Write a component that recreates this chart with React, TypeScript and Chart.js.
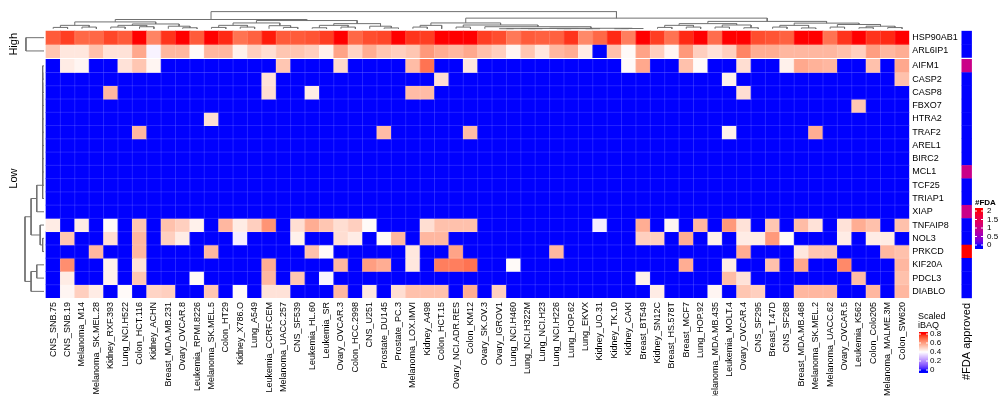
import { useEffect, useRef } from 'react';
import { Chart, registerables } from 'chart.js';
Chart.register(...registerables);

// ---------------- data ----------------
const cellLines = [
  'CNS_SNB.75', 'CNS_SNB.19', 'Melanoma_M14', 'Melanoma_SK.MEL.28', 'Kidney_RXF.393', 'Lung_NCI.H522',
  'Colon_HCT.116', 'Kidney_ACHN', 'Breast_MDA.MB.231', 'Ovary_OVCAR.8', 'Leukemia_RPMI.8226',
  'Melanoma_SK.MEL.5', 'Colon_HT29', 'Kidney_X786.O', 'Lung_A549', 'Leukemia_CCRF.CEM',
  'Melanoma_UACC.257', 'CNS_SF539', 'Leukemia_HL.60', 'Leukemia_SR', 'Ovary_OVCAR.3',
  'Colon_HCC.2998', 'CNS_U251', 'Prostate_DU145', 'Prostate_PC.3', 'Melanoma_LOX.IMVI',
  'Kidney_A498', 'Colon_HCT.15', 'Ovary_NCI.ADR.RES', 'Colon_KM12', 'Ovary_SK.OV.3',
  'Ovary_IGROV1', 'Lung_NCI.H460', 'Lung_NCI.H322M', 'Lung_NCI.H23', 'Lung_NCI.H226',
  'Lung_HOP.62', 'Lung_EKVX', 'Kidney_UO.31', 'Kidney_TK.10', 'Kidney_CAKI', 'Breast_BT549',
  'Kidney_SN12C', 'Breast_HS.578T', 'Breast_MCF7', 'Lung_HOP.92', 'Melanoma_MDA.MB.435',
  'Leukemia_MOLT.4', 'Ovary_OVCAR.4', 'CNS_SF295', 'Breast_T.47D', 'CNS_SF268',
  'Breast_MDA.MB.468', 'Melanoma_SK.MEL.2', 'Melanoma_UACC.62', 'Ovary_OVCAR.5',
  'Leukemia_K562', 'Colon_Colo205', 'Melanoma_MALME.3M', 'Colon_SW620',
];

const genes = [
  'HSP90AB1', 'ARL6IP1', 'AIFM1', 'CASP2', 'CASP8', 'FBXO7', 'HTRA2', 'TRAF2', 'AREL1', 'BIRC2',
  'MCL1', 'TCF25', 'TRIAP1', 'XIAP', 'TNFAIP8', 'NOL3', 'PRKCD', 'KIF20A', 'PDCL3', 'DIABLO',
];
const rowGroups = ['High', 'High', 'Low', 'Low', 'Low', 'Low', 'Low', 'Low', 'Low', 'Low',
  'Low', 'Low', 'Low', 'Low', 'Low', 'Low', 'Low', 'Low', 'Low', 'Low'];

const HSP90AB1 = [0.72, 0.76, 0.70, 0.70, 0.75, 0.72, 0.80, 0.65, 0.77, 0.80, 0.72, 0.80, 0.78, 0.68, 0.71, 0.79, 0.72, 0.72, 0.73, 0.76,
  0.80, 0.70, 0.74, 0.75, 0.80, 0.77, 0.76, 0.80, 0.80, 0.80, 0.76, 0.74, 0.67, 0.72, 0.71, 0.71, 0.77, 0.64, 0.70, 0.78,
  0.66, 0.80, 0.76, 0.68, 0.78, 0.80, 0.69, 0.80, 0.80, 0.74, 0.73, 0.71, 0.80, 0.80, 0.68, 0.77, 0.80, 0.77, 0.78, 0.80];
const ARL6IP1 = [0.52, 0.45, 0.45, 0.53, 0.46, 0.46, 0.58, 0.38, 0.55, 0.55, 0.41, 0.55, 0.55, 0.43, 0.50, 0.47, 0.52, 0.52, 0.50, 0.43,
  0.59, 0.49, 0.57, 0.52, 0.50, 0.52, 0.61, 0.57, 0.55, 0.58, 0.53, 0.50, 0.42, 0.52, 0.45, 0.55, 0.57, 0.44, 0.00, 0.53,
  0.41, 0.59, 0.50, 0.42, 0.61, 0.50, 0.46, 0.50, 0.65, 0.57, 0.57, 0.55, 0.55, 0.55, 0.55, 0.53, 0.50, 0.60, 0.55, 0.57];
const AIFM1 = [0, 0.44, 0.42, 0, 0, 0.46, 0.52, 0.42, 0, 0, 0, 0, 0, 0, 0, 0, 0.52, 0, 0, 0,
  0.48, 0, 0, 0, 0, 0.54, 0.68, 0, 0, 0.45, 0, 0, 0, 0, 0, 0, 0, 0, 0, 0,
  0.41, 0.58, 0, 0, 0.53, 0.41, 0, 0, 0.47, 0, 0, 0.43, 0.58, 0.56, 0.55, 0, 0, 0.53, 0, 0.58];
const CASP2 = [0, 0, 0, 0, 0, 0, 0, 0, 0, 0, 0, 0, 0, 0, 0, 0.46, 0, 0, 0, 0,
  0, 0, 0, 0, 0, 0, 0, 0.47, 0, 0, 0, 0, 0, 0, 0, 0, 0, 0, 0, 0,
  0, 0, 0, 0, 0, 0, 0, 0.43, 0, 0, 0, 0, 0, 0, 0, 0, 0, 0, 0, 0.53];
const CASP8 = [0, 0, 0, 0, 0.55, 0, 0, 0, 0, 0, 0, 0, 0, 0, 0, 0.47, 0, 0, 0.44, 0,
  0, 0, 0, 0, 0, 0.54, 0.54, 0, 0, 0, 0, 0, 0, 0, 0, 0, 0, 0, 0, 0,
  0, 0, 0, 0, 0, 0, 0, 0, 0.47, 0, 0, 0, 0, 0, 0, 0, 0, 0, 0, 0];
const FBXO7 = [0, 0, 0, 0, 0, 0, 0, 0, 0, 0, 0, 0, 0, 0, 0, 0, 0, 0, 0, 0,
  0, 0, 0, 0, 0, 0, 0, 0, 0, 0, 0, 0, 0, 0, 0, 0, 0, 0, 0, 0,
  0, 0, 0, 0, 0, 0, 0, 0, 0, 0, 0, 0, 0, 0, 0, 0, 0.52, 0, 0, 0];
const HTRA2 = [0, 0, 0, 0, 0, 0, 0, 0, 0, 0, 0, 0.47, 0, 0, 0, 0, 0, 0, 0, 0,
  0, 0, 0, 0, 0, 0, 0, 0, 0, 0, 0, 0, 0, 0, 0, 0, 0, 0, 0, 0,
  0, 0, 0, 0, 0, 0, 0, 0, 0, 0, 0, 0, 0, 0, 0, 0, 0, 0, 0, 0];
const TRAF2 = [0, 0, 0, 0, 0, 0, 0.55, 0, 0, 0, 0, 0, 0, 0, 0, 0, 0, 0, 0, 0,
  0, 0, 0, 0.54, 0, 0, 0, 0, 0, 0.54, 0, 0, 0, 0, 0, 0, 0, 0, 0, 0,
  0, 0, 0, 0, 0, 0, 0, 0.43, 0, 0, 0, 0, 0, 0.57, 0, 0, 0, 0, 0, 0];
const AREL1 = [0, 0, 0, 0, 0, 0, 0, 0, 0, 0, 0, 0, 0, 0, 0, 0, 0, 0, 0, 0,
  0, 0, 0, 0, 0, 0, 0, 0, 0, 0, 0, 0, 0, 0, 0, 0, 0, 0, 0, 0,
  0, 0, 0, 0, 0, 0, 0, 0, 0, 0, 0, 0, 0, 0, 0, 0, 0, 0, 0, 0];
const BIRC2 = [...AREL1];
const MCL1 = [...AREL1];
const TCF25 = [...AREL1];
const TRIAP1 = [...AREL1];
const XIAP = [...AREL1];
const TNFAIP8 = [0.44, 0, 0.44, 0, 0.41, 0, 0.52, 0, 0.53, 0.50, 0.43, 0, 0.55, 0.44, 0.50, 0.62, 0, 0.47, 0.57, 0.52,
  0.47, 0.50, 0.41, 0, 0, 0, 0.47, 0.53, 0.53, 0.53, 0, 0, 0, 0, 0, 0, 0, 0, 0.37, 0,
  0, 0.57, 0, 0.42, 0, 0.55, 0, 0.61, 0.46, 0, 0.52, 0, 0.54, 0.46, 0, 0.46, 0.57, 0.53, 0, 0.53];
const NOL3 = [0, 0.52, 0, 0, 0.47, 0, 0.55, 0, 0.50, 0.44, 0, 0, 0, 0.37, 0, 0, 0, 0.43, 0, 0,
  0.47, 0.44, 0, 0.41, 0.55, 0, 0.55, 0.55, 0, 0, 0, 0, 0, 0, 0, 0, 0, 0, 0, 0,
  0, 0.50, 0.50, 0, 0.57, 0, 0.43, 0, 0.44, 0.44, 0.61, 0.41, 0, 0, 0, 0.44, 0, 0.44, 0.44, 0];
const PRKCD = [0, 0, 0, 0.55, 0, 0, 0.55, 0, 0, 0, 0, 0.55, 0, 0, 0, 0, 0, 0, 0.53, 0.41,
  0, 0, 0, 0, 0, 0.45, 0, 0, 0.59, 0, 0, 0, 0, 0, 0, 0.55, 0, 0, 0, 0,
  0, 0, 0, 0, 0, 0, 0, 0, 0.57, 0, 0, 0, 0.45, 0.52, 0.52, 0, 0, 0, 0.55, 0.53];
const KIF20A = [0, 0.63, 0, 0, 0.43, 0, 0.46, 0, 0, 0, 0, 0, 0, 0, 0, 0.57, 0, 0, 0, 0,
  0.55, 0, 0.60, 0.57, 0, 0.45, 0, 0.66, 0.66, 0.68, 0, 0, 0.41, 0, 0, 0, 0, 0, 0, 0,
  0, 0, 0, 0, 0.57, 0, 0, 0.44, 0, 0, 0.53, 0, 0.58, 0, 0, 0.64, 0, 0, 0, 0.55];
const PDCL3 = [0, 0.44, 0, 0, 0.43, 0, 0.52, 0, 0, 0, 0.41, 0, 0, 0, 0, 0.55, 0, 0.52, 0, 0.38,
  0, 0, 0, 0, 0, 0, 0, 0, 0, 0, 0, 0, 0, 0, 0, 0, 0, 0, 0, 0,
  0, 0.43, 0, 0, 0, 0, 0, 0.54, 0.46, 0, 0, 0, 0, 0, 0, 0, 0.54, 0, 0, 0.53];
const DIABLO = [0, 0.42, 0.50, 0.44, 0, 0.41, 0, 0.49, 0.50, 0, 0, 0.52, 0, 0.41, 0, 0.46, 0.46, 0, 0, 0,
  0.55, 0, 0.45, 0, 0.47, 0.53, 0.53, 0.53, 0, 0.57, 0, 0.50, 0, 0, 0, 0, 0, 0, 0, 0,
  0, 0, 0.44, 0, 0, 0, 0.42, 0, 0.52, 0.50, 0, 0, 0.55, 0.55, 0.55, 0, 0, 0.55, 0, 0.55];

const geneValues = [HSP90AB1, ARL6IP1, AIFM1, CASP2, CASP8, FBXO7, HTRA2, TRAF2, AREL1, BIRC2,
  MCL1, TCF25, TRIAP1, XIAP, TNFAIP8, NOL3, PRKCD, KIF20A, PDCL3, DIABLO];

const fdaApproved = [0, 0, 1, 0, 0, 0, 0, 0, 0, 0, 1, 0, 0, 1, 0, 0, 2, 0, 0, 0];

const iBAQTicks = [0, 0.2, 0.4, 0.6, 0.8];
const fdaTicks = [0, 0.5, 1, 1.5, 2];

// dendrograms: [height, left, right]; leaves are column / row indices
type Node = number | [number, Node, Node];
const colTree: Node = [1.0,
  [0.54,
    [0.40,
      [0.2, [0.08, 0, 1], [0.1, 2, 3]],
      [0.28, [0.2, [0.1, 4, 5], [0.12, 6, 7]], [0.15, 8, [0.06, 9, 10]]]],
    [0.48,
      [0.34, [0.2, [0.08, 11, 12], [0.1, 13, 14]], [0.18, 15, [0.08, 16, 17]]],
      [0.3, [0.2, [0.06, 18, 19], [0.1, 20, 21]], [0.15, 22, [0.05, 23, 24]]]]],
  [0.62,
    [0.34,
      [0.2, [0.1, 25, 26], 27],
      [0.22, [0.1, 28, 29], [0.12, 30,
        [0.03, [0.02, [0.01, [0.005, 31, 32], [0.005, 33, 34]], [0.01, [0.005, 35, 36], [0.005, 37, 38]]],
          [0.015, [0.005, 39, 40], 41]]]]],
    [0.43,
      [0.3, [0.2, [0.08, 42, 43], [0.1, 44, 45]], [0.22, [0.1, 46, 47], [0.06, 48, 49]]],
      [0.33, [0.2, [0.1, 50, 51], [0.05, 52, 53]], [0.25, [0.1, 54, 55], [0.15, [0.06, 56, 57], [0.07, 58, 59]]]]]]];
const rowTreeHigh: Node = [0.95, 0, 1];
const rowTreeLow: Node = [1.0,
  [0.68,
    [0.38, [0.07, [0.07, [0.07, [0.07, [0.07, [0.07, [0.07, [0.07, [0.07, [0.07, 2, 3], 4], 5], 6], 7], 8], 9], 10], 11], 12], 13],
    [0.2, 14, [0.07, 15, 16]]],
  [0.68, [0.38, 17, 18], 19]];

// ---------------- geometry & colours ----------------
const W = 1000, H = 396;
const HEAT_L = 46, HEAT_R = 909.3, HEAT_T = 23.3, HEAT_B = 298;
const GAP = 0.125;
const UNIT_X = (HEAT_R - HEAT_L) / cellLines.length;
const X_MIN = -0.5 - HEAT_L / UNIT_X;
const X_MAX = cellLines.length - 0.5;
const Y_MAX = genes.length + GAP;
const UNIT_Y = (HEAT_B - HEAT_T) / Y_MAX;
const Y_MIN = -HEAT_T / UNIT_Y;
const FDA_X = -0.5 + (966.7 - HEAT_L) / UNIT_X;
const rowTop = (r: number) => r + (rowGroups[r] === 'Low' ? GAP : 0);
const colDendY = (h: number) => -0.17 - h * 1.295;
const rowDendX = (h: number) => -0.64 - h * 1.32;

const toLin = (c: number) => { c /= 255; return c <= 0.04045 ? c / 12.92 : Math.pow((c + 0.055) / 1.055, 2.4); };
const fromLin = (c: number) => { const v = c <= 0.0031308 ? 12.92 * c : 1.055 * Math.pow(c, 1 / 2.4) - 0.055; return Math.round(Math.min(1, Math.max(0, v)) * 255); };
function rgb2lab(rgb: number[]) {
  const [R, G, B] = rgb.map(toLin);
  const X = (0.4124 * R + 0.3576 * G + 0.1805 * B) / 0.95047;
  const Y = 0.2126 * R + 0.7152 * G + 0.0722 * B;
  const Z = (0.0193 * R + 0.1192 * G + 0.9505 * B) / 1.08883;
  const f = (t: number) => (t > 0.008856 ? Math.cbrt(t) : 7.787 * t + 16 / 116);
  return [116 * f(Y) - 16, 500 * (f(X) - f(Y)), 200 * (f(Y) - f(Z))];
}
function lab2rgbArr(L: number, a: number, b: number) {
  const fy = (L + 16) / 116, fx = fy + a / 500, fz = fy - b / 200;
  const fi = (t: number) => (t > 0.206893 ? t * t * t : (t - 16 / 116) / 7.787);
  const X = fi(fx) * 0.95047, Y = fi(fy), Z = fi(fz) * 1.08883;
  const R = 3.2406 * X - 1.5372 * Y - 0.4986 * Z;
  const G = -0.9689 * X + 1.8758 * Y + 0.0415 * Z;
  const B = 0.0557 * X - 0.204 * Y + 1.057 * Z;
  return [fromLin(R), fromLin(G), fromLin(B)];
}
function colorRampArr(breaks: number[], colors: number[][]) {
  const labs = colors.map(rgb2lab);
  return (v: number) => {
    const x = Math.min(breaks[breaks.length - 1], Math.max(breaks[0], v));
    let k = 0;
    while (k < breaks.length - 2 && x > breaks[k + 1]) k++;
    const t = (x - breaks[k]) / (breaks[k + 1] - breaks[k]);
    const a = labs[k], b = labs[k + 1];
    return lab2rgbArr(a[0] + (b[0] - a[0]) * t, a[1] + (b[1] - a[1]) * t, a[2] + (b[2] - a[2]) * t);
  };
}
const heatRgb = colorRampArr([0, 0.4, 0.8], [[0, 0, 255], [255, 255, 255], [255, 0, 0]]);
const fdaRgb = colorRampArr([0, 2], [[0, 0, 255], [255, 0, 0]]);
const css = (c: number[]) => `rgb(${c[0]},${c[1]},${c[2]})`;
const heatColor = (v: number) => css(heatRgb(v));
const fdaColor = (v: number) => css(fdaRgb(v));

function dendroPoints(tree: Node, leafPos: (i: number) => number, pt: (pos: number, h: number) => any) {
  const pts: any[] = [];
  const walk = (n: Node): [number, number] => {
    if (typeof n === 'number') return [leafPos(n), 0];
    const [h, a, b] = n;
    const [pa, ha] = walk(a);
    const [pb, hb] = walk(b);
    pts.push(pt(pa, ha), pt(pa, h), pt(pb, h), pt(pb, hb), { x: 0, y: null });
    return [(pa + pb) / 2, h];
  };
  walk(tree);
  return pts;
}

const FONT = '"Liberation Sans", Arial, sans-serif';

// faint cell separators over the heatmap body
const cellGrid = {
  id: 'cellGrid',
  afterDatasetsDraw(chart: any) {
    const ctx = chart.ctx as CanvasRenderingContext2D;
    const xs = chart.scales.x, ys = chart.scales.y;
    const groups = Array.from(new Set(rowGroups));
    ctx.save();
    ctx.strokeStyle = 'rgba(255,255,255,0.2)';
    ctx.lineWidth = 0.7;
    const left = xs.getPixelForValue(-0.5), right = xs.getPixelForValue(cellLines.length - 0.5);
    groups.forEach((g) => {
      const rows = rowGroups.map((v, i) => (v === g ? i : -1)).filter((i) => i >= 0);
      const top = ys.getPixelForValue(rowTop(rows[0]));
      const bot = ys.getPixelForValue(rowTop(rows[rows.length - 1]) + 1);
      ctx.beginPath();
      for (let i = 0; i < cellLines.length - 1; i++) {
        const px = xs.getPixelForValue(i + 0.5);
        ctx.moveTo(px, top); ctx.lineTo(px, bot);
      }
      for (let k = 0; k < rows.length - 1; k++) {
        const py = ys.getPixelForValue(rowTop(rows[k]) + 1);
        ctx.moveTo(left, py); ctx.lineTo(right, py);
      }
      ctx.stroke();
    });
    ctx.restore();
  },
};

const decorations = {
  id: 'decorations',
  afterDraw(chart: any) {
    const ctx = chart.ctx as CanvasRenderingContext2D;
    const ys = chart.scales.y;
    ctx.save();
    ctx.fillStyle = '#000';
    const vtext = (txt: string, x: number, y: number, font: string, align: CanvasTextAlign) => {
      ctx.save();
      ctx.translate(x, y);
      ctx.rotate(-Math.PI / 2);
      ctx.font = font;
      ctx.textAlign = align;
      ctx.textBaseline = 'middle';
      ctx.fillText(txt, 0, 0);
      ctx.restore();
    };
    const groups = Array.from(new Set(rowGroups));
    groups.forEach((g) => {
      const rows = rowGroups.map((v, i) => (v === g ? i : -1)).filter((i) => i >= 0);
      const top = ys.getPixelForValue(rowTop(rows[0]));
      const bot = ys.getPixelForValue(rowTop(rows[rows.length - 1]) + 1);
      vtext(g, 14, (top + bot) / 2, `11px ${FONT}`, 'center');
    });
    vtext('#FDA approved', 967, 303, `11px ${FONT}`, 'right');

    // Scaled iBAQ legend
    ctx.font = `9px ${FONT}`;
    ctx.textAlign = 'left';
    ctx.textBaseline = 'middle';
    ctx.fillText('Scaled', 918, 316.5);
    ctx.fillText('iBAQ', 918, 325.5);
    const lgX = 919, lgW = 9, lgTop = 332, lgBot = 373;
    const y0 = 370, yPer = 45;
    for (let py = lgTop; py < lgBot; py++) {
      const v = (y0 - (py + 0.5)) / yPer;
      ctx.fillStyle = heatColor(v);
      ctx.fillRect(lgX, py, lgW, 1);
    }
    ctx.font = `8px ${FONT}`;
    iBAQTicks.forEach((t) => {
      const py = y0 - t * yPer;
      ctx.strokeStyle = '#fff';
      ctx.lineWidth = 1;
      ctx.beginPath();
      ctx.moveTo(lgX, py); ctx.lineTo(lgX + 2, py);
      ctx.moveTo(lgX + lgW - 2, py); ctx.lineTo(lgX + lgW, py);
      ctx.stroke();
      ctx.fillStyle = '#000';
      ctx.fillText(String(t), lgX + lgW + 2, py);
    });

    // #FDA legend
    ctx.font = `bold 8px ${FONT}`;
    ctx.fillStyle = '#000';
    ctx.fillText('#FDA', 975, 203);
    const fX = 975, fW = 8, fTop = 208, fBot = 249;
    const f0 = 245, fPer = 17;
    for (let py = fTop; py < fBot; py++) {
      const v = (f0 - (py + 0.5)) / fPer;
      ctx.fillStyle = fdaColor(v);
      ctx.fillRect(fX, py, fW, 1);
    }
    ctx.font = `8px ${FONT}`;
    fdaTicks.forEach((t) => {
      const py = f0 - t * fPer;
      ctx.strokeStyle = '#fff';
      ctx.beginPath();
      ctx.moveTo(fX, py); ctx.lineTo(fX + 2, py);
      ctx.moveTo(fX + fW - 2, py); ctx.lineTo(fX + fW, py);
      ctx.stroke();
      ctx.fillStyle = '#000';
      ctx.fillText(String(t), fX + fW + 4, py);
    });
    ctx.restore();
  },
};

export default function App() {
  const ref = useRef<HTMLCanvasElement>(null);
  useEffect(() => {
    document.body.style.margin = '0';
    const canvas = ref.current!;
    const heatSets = genes.map((g, r) => ({
      type: 'bar' as const,
      label: g,
      data: cellLines.map((_, i) => ({ x: i, y: [rowTop(r), rowTop(r) + 1] })),
      backgroundColor: geneValues[r].map((v) => heatColor(v)),
      borderWidth: 0,
      inflateAmount: 0.35,
      barPercentage: 1,
      categoryPercentage: 1,
      grouped: false,
    }));
    const fdaSet = {
      type: 'bar' as const,
      label: '#FDA approved',
      data: genes.map((_, r) => ({ x: FDA_X, y: [rowTop(r), rowTop(r) + 1] })),
      backgroundColor: fdaApproved.map((v) => fdaColor(v)),
      borderWidth: 0,
      inflateAmount: 0.2,
      barPercentage: 10 / UNIT_X,
      categoryPercentage: 1,
      grouped: false,
      clip: false,
    };
    const lineStyle = {
      type: 'line' as const,
      borderColor: '#707070',
      borderWidth: 1,
      pointRadius: 0,
      fill: false,
      tension: 0,
      spanGaps: false,
      clip: false,
    };
    const colDend = {
      ...lineStyle,
      label: 'column dendrogram',
      data: dendroPoints(colTree, (i) => i, (pos, h) => ({ x: pos, y: colDendY(h) })),
    };
    const rowCenter = (r: number) => rowTop(r) + 0.5;
    const rowDendHigh = {
      ...lineStyle,
      label: 'row dendrogram high',
      data: dendroPoints(rowTreeHigh, rowCenter, (pos, h) => ({ x: rowDendX(h), y: pos })),
    };
    const rowDendLow = {
      ...lineStyle,
      label: 'row dendrogram low',
      data: dendroPoints(rowTreeLow, rowCenter, (pos, h) => ({ x: rowDendX(h), y: pos })),
    };

    const chart = new Chart(canvas, {
      type: 'bar',
      data: { datasets: [...heatSets, fdaSet, colDend, rowDendHigh, rowDendLow] as any },
      options: {
        responsive: false,
        animation: false,
        devicePixelRatio: 1,
        layout: { padding: 0 },
        plugins: { legend: { display: false }, tooltip: { enabled: false } },
        scales: {
          x: {
            type: 'linear',
            position: 'bottom',
            min: X_MIN,
            max: X_MAX,
            offset: false,
            grid: { display: false, drawTicks: false },
            border: { display: false },
            afterBuildTicks: (s: any) => { s.ticks = cellLines.map((_, i) => ({ value: i })); },
            afterFit: (s: any) => { s.height = H - HEAT_B; },
            ticks: {
              autoSkip: false,
              minRotation: 90,
              maxRotation: 90,
              padding: 4,
              color: '#000',
              font: { size: 9, family: FONT },
              callback: (_v: any, i: number) => cellLines[i],
            },
          },
          y: {
            type: 'linear',
            position: 'right',
            reverse: true,
            min: Y_MIN,
            max: Y_MAX,
            grid: { display: false, drawTicks: false },
            border: { display: false },
            afterBuildTicks: (s: any) => { s.ticks = genes.map((_, r) => ({ value: rowCenter(r) })); },
            afterFit: (s: any) => { s.width = W - HEAT_R; },
            ticks: {
              autoSkip: false,
              padding: 3,
              color: '#000',
              font: { size: 9, family: FONT },
              callback: (_v: any, i: number) => genes[i],
            },
          },
        },
      },
      plugins: [cellGrid, decorations],
    } as any);
    return () => chart.destroy();
  }, []);
  return (
    <div style={{ position: 'fixed', left: 0, top: 0, width: W, height: H, background: '#fff' }}>
      <canvas ref={ref} width={W} height={H} style={{ display: 'block', width: W, height: H }} />
    </div>
  );
}
